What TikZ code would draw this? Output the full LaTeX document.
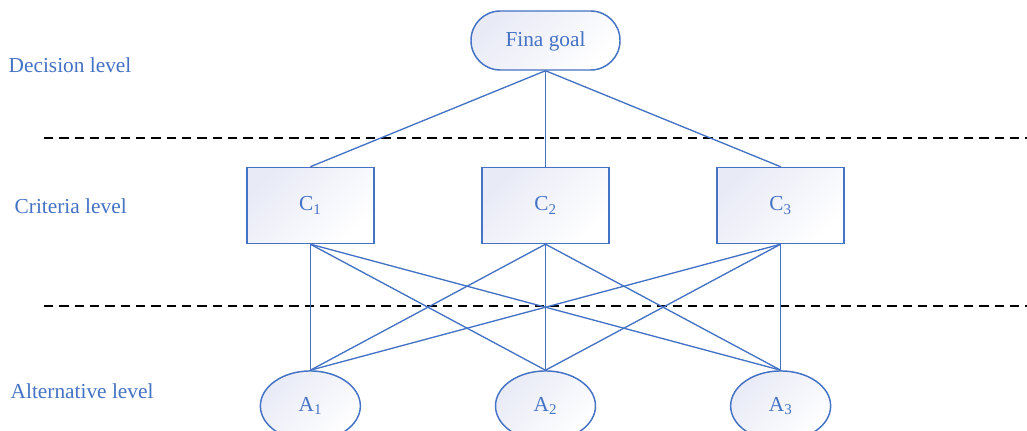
\documentclass[tikz,border=0pt]{standalone}
\usepackage{fontspec}
\setmainfont{Liberation Serif}
\usetikzlibrary{positioning, calc, shapes.geometric}
\definecolor{ahpblue}{HTML}{4472C4}
\definecolor{ahpfill}{HTML}{E8EAF6}

\begin{document}
\begin{tikzpicture}[x=0.75pt, y=-0.75pt,
    every node/.style={font=\fontsize{16}{19}\selectfont, text=ahpblue},
    shade box/.style={draw=ahpblue, line width=1.1pt, top color=ahpfill, bottom color=white, shading angle=45},
    crit/.style={shade box, rectangle, minimum width=95.25pt, minimum height=57pt},
    alt/.style={shade box, ellipse, minimum width=75pt, minimum height=52.5pt},
    link/.style={draw=ahpblue, line width=1pt},
    sep/.style={draw=black, line width=1pt, dash pattern=on 7pt off 4.5pt}]
    \useasboundingbox (0,0) rectangle (1027,431);

    \node[shade box, rounded corners=22pt, minimum width=111.75pt, minimum height=44.25pt, text depth=2pt] (goal) at (545.5,40.5) {Fina goal};

    \node[crit, below=72pt of goal] (c2) {C\textsubscript{2}};
    \node[crit, left=80pt of c2] (c1) {C\textsubscript{1}};
    \node[crit, right=80pt of c2] (c3) {C\textsubscript{3}};

    \node[alt, below=94.5pt of c1] (a1) {A\textsubscript{1}};
    \node[alt, below=94.5pt of c2] (a2) {A\textsubscript{2}};
    \node[alt, below=94.5pt of c3] (a3) {A\textsubscript{3}};

    % level names
    \node[anchor=west] (decision) at (4,65) {Decision level};
    \node[anchor=west] (criteria) at (10,206) {Criteria level};
    \node[anchor=west] (alternative) at (6,391) {Alternative level};

    % separators
    \coordinate (s1l) at (44,138);
    \coordinate (s1r) at (1027,138);
    \coordinate (s2l) at (44,306);
    \coordinate (s2r) at (1027,306);
    \draw[sep] (s1l) -- (s1r);
    \draw[sep] (s2l) -- (s2r);

    \draw[link] (goal.south) -- (c1.north);
    \draw[link] (goal.south) -- (c2.north);
    \draw[link] (goal.south) -- (c3.north);

    \draw[link] (c1.south) -- (a1.north);
    \draw[link] (c1.south) -- (a2.north);
    \draw[link] (c1.south) -- (a3.north);
    \draw[link] (c2.south) -- (a1.north);
    \draw[link] (c2.south) -- (a2.north);
    \draw[link] (c2.south) -- (a3.north);
    \draw[link] (c3.south) -- (a1.north);
    \draw[link] (c3.south) -- (a2.north);
    \draw[link] (c3.south) -- (a3.north);

\end{tikzpicture}
\end{document}
